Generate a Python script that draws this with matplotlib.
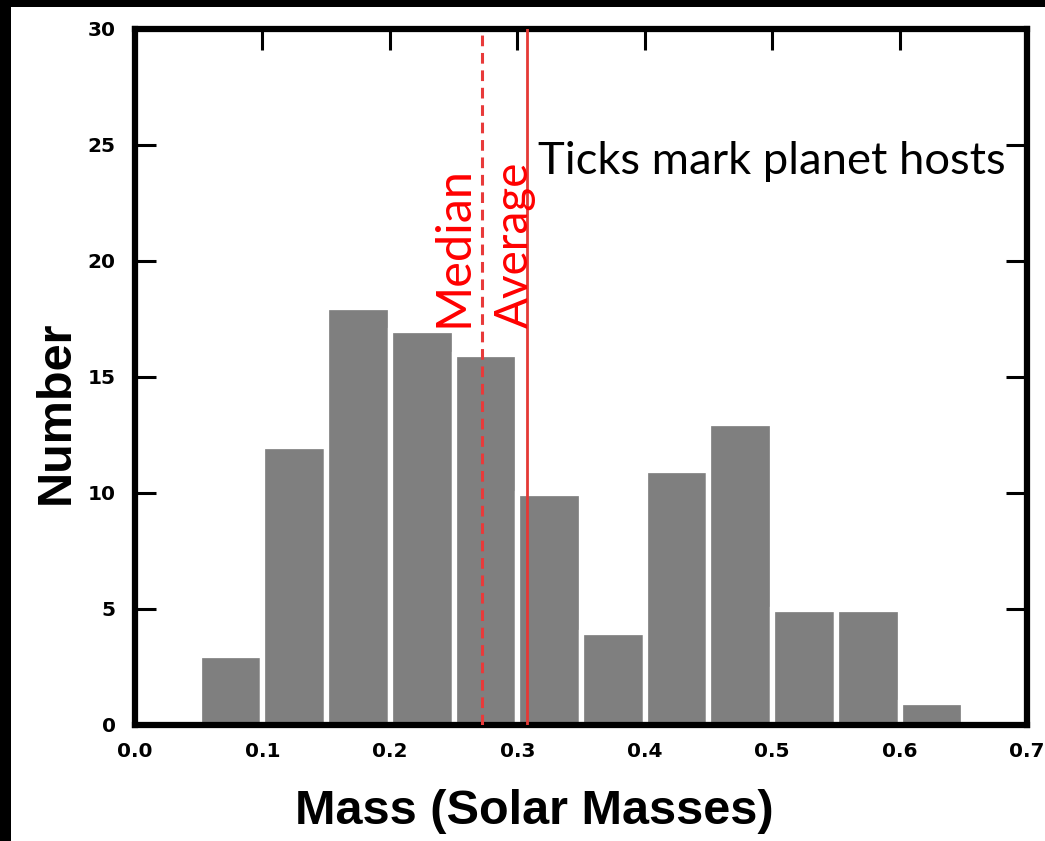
import matplotlib
matplotlib.use("Agg")
import matplotlib.pyplot as plt
from matplotlib.patches import Rectangle

# Data
bin_edges = [0.05, 0.10, 0.15, 0.20, 0.25, 0.30, 0.35, 0.40, 0.45, 0.50, 0.55, 0.60, 0.65]
counts = [3, 12, 18, 17, 16, 10, 4, 11, 13, 5, 5, 1]
median_mass = 0.272
average_mass = 0.308
x_ticks = [0.0, 0.1, 0.2, 0.3, 0.4, 0.5, 0.6, 0.7]
y_ticks = [0, 5, 10, 15, 20, 25, 30]

DPI = 100
fig = plt.figure(figsize=(10.45, 8.41), dpi=DPI)
fig.patch.set_facecolor("black")
fig.patches.append(Rectangle((11 / 1045, 0), 1, 1 - 7 / 841, transform=fig.transFigure,
                             facecolor="white", edgecolor="none", zorder=-10))

ax = fig.add_axes([135 / 1045, 1 - 725 / 841, (1027 - 135) / 1045, (725 - 28.5) / 841])
ax.set_facecolor("white")

lefts = bin_edges[:-1]
widths = [bin_edges[i + 1] - bin_edges[i] for i in range(len(lefts))]
ax.bar(lefts, counts, width=widths, align="edge", color="#7f7f7f",
       edgecolor="white", linewidth=3.8, zorder=2)

ax.axvline(median_mass, color="#e83a3a", linestyle=(0, (3.5, 2.2)), linewidth=2.2, zorder=3)
ax.axvline(average_mass, color="#e53935", linestyle="-", linewidth=2.0, zorder=3)

ax.set_xlim(0, 0.7)
ax.set_ylim(0, 30)
ax.set_xticks(x_ticks)
ax.set_yticks(y_ticks)
ax.set_xticklabels([f"{v:.1f}" for v in x_ticks], fontweight="bold", fontsize=14.5, family="DejaVu Sans")
ax.set_yticklabels([str(v) for v in y_ticks], fontweight="bold", fontsize=14.5, family="DejaVu Sans")
ax.tick_params(direction="in", length=15, width=2.2, top=True, right=True)
ax.tick_params(axis="x", pad=12)
ax.tick_params(axis="y", pad=14)
for s in ax.spines.values():
    s.set_linewidth(4.5)
    s.set_color("black")

ax.set_xlabel("Mass (Solar Masses)", fontsize=35, fontweight="bold", family="Liberation Sans")
ax.xaxis.set_label_coords((534 - 135) / 892, -(812 - 725) / 696.5)
ax.xaxis.label.set_va("center")
ax.set_ylabel("Number", fontsize=35, fontweight="bold", family="Liberation Sans")
ax.yaxis.set_label_coords(-(135 - 56) / 892, (725 - 412) / 696.5)
ax.yaxis.label.set_va("center")

ax.text(0.2496, 20.6, "Median", rotation=90, color="red", fontsize=35, family="Lato",
        ha="center", va="center", zorder=4)
ax.text(0.298, 20.7, "Average", rotation=90, color="red", fontsize=33, family="Lato",
        ha="center", va="center", zorder=4)
ax.text(0.3163, 23.74, "Ticks mark planet hosts", color="black", fontsize=32.7, family="Lato",
        ha="left", va="baseline", zorder=4)

fig.savefig("out.png", dpi=DPI, facecolor=fig.get_facecolor())
